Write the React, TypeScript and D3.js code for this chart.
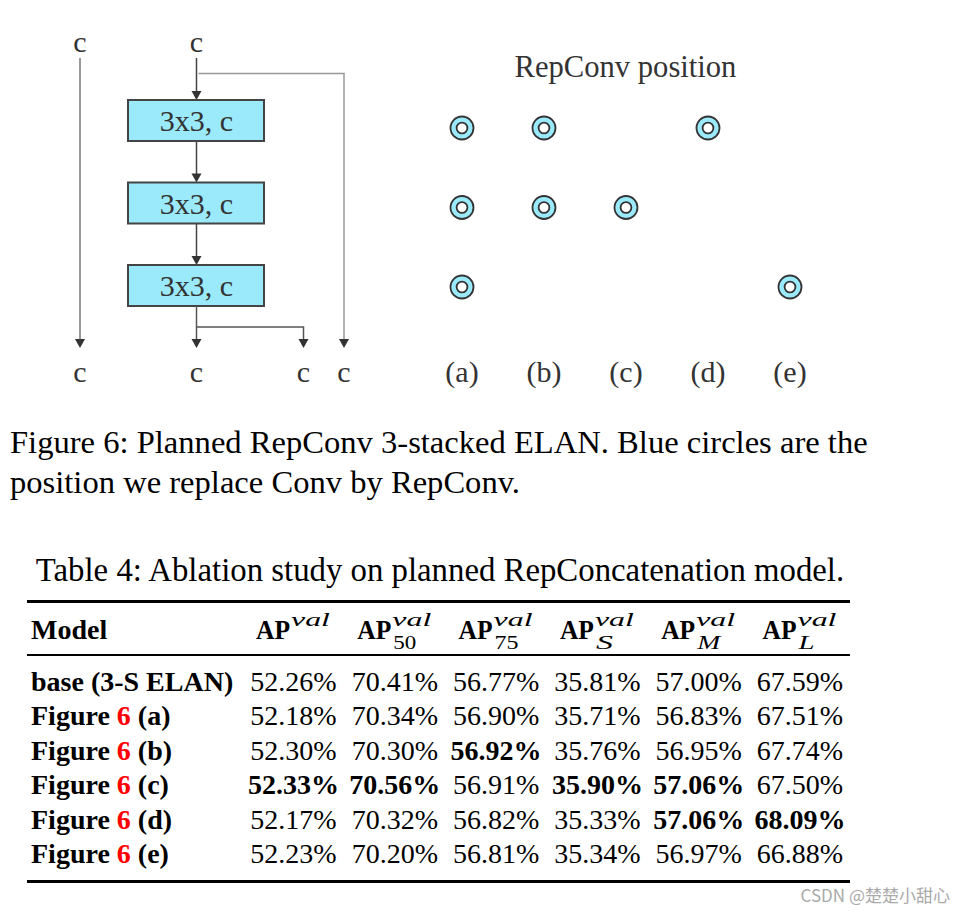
import React from "react";
import * as d3 from "d3";

// ---------- data ----------
const topLabels = ["c", "c"];
const bottomLabels = ["c", "c", "c", "c"];
const blockLabels = ["3x3, c", "3x3, c", "3x3, c"];
const variants = ["(a)", "(b)", "(c)", "(d)", "(e)"];
const repconvRows = [[0, 1, 2], [0, 1], [1], [0], [2]];
const captionLines = [
  "Figure 6: Planned RepConv 3-stacked ELAN. Blue circles are the",
  "position we replace Conv by RepConv.",
];
const tableTitle = "Table 4: Ablation study on planned RepConcatenation model.";
const modelNames = ["base (3-S ELAN)", "(a)", "(b)", "(c)", "(d)", "(e)"];
const colKeys = ["AP", "AP50", "AP75", "APS", "APM", "APL"];
const colSubs = ["", "50", "75", "S", "M", "L"];
const apVal = [52.26, 52.18, 52.3, 52.33, 52.17, 52.23];
const ap50 = [70.41, 70.34, 70.3, 70.56, 70.32, 70.2];
const ap75 = [56.77, 56.9, 56.92, 56.91, 56.82, 56.81];
const apS = [35.81, 35.71, 35.76, 35.9, 35.33, 35.34];
const apM = [57.0, 56.83, 56.95, 57.06, 57.06, 56.97];
const apL = [67.59, 67.51, 67.74, 67.5, 68.09, 66.88];
const columns = [apVal, ap50, ap75, apS, apM, apL];

const SERIF = "'Liberation Serif', 'Times New Roman', serif";
const CYAN = "#9beafc";
const DK = "#333";

function Arrow({ x, y }: { x: number; y: number }) {
  // y is the tip
  return <path d={`M${x - 5},${y - 9}L${x + 5},${y - 9}L${x},${y}Z`} fill={DK} />;
}

export default function App() {
  // diagram scales
  const xVar = d3.scalePoint<string>().domain(variants).range([462, 790]);
  const yRow = d3.scalePoint<number>().domain([0, 1, 2]).range([128, 287]);
  const yBox = d3.scalePoint<number>().domain([0, 1, 2]).range([100, 265]);
  const boxH = 41;
  const boxX0 = 128, boxX1 = 264;
  const cx = 196.5;

  // table scales
  const xCol = d3.scalePoint<string>().domain(colKeys).range([293.5, 800]);
  const yRowT = d3.scalePoint<number>().domain(d3.range(modelNames.length)).range([690.5, 863]);
  const subWidths: Record<string, number> = { "": 0, "50": 23, "75": 24, S: 17, M: 23, L: 16 };

  return (
    <svg width={973} height={916} style={{ position: "absolute", left: 0, top: 0, background: "#fff" }}
      fontFamily={SERIF}>
      <rect width={973} height={916} fill="#fff" />
      {/* ---------- ELAN diagram ---------- */}
      <g fill={DK} fontSize={30}>
        {topLabels.map((t, i) => (
          <text key={"t" + i} x={i === 0 ? 80 : cx} y={52} textAnchor="middle">{t}</text>
        ))}
        {bottomLabels.map((t, i) => (
          <text key={"b" + i} x={[80, cx, 303.5, 344][i]} y={382} textAnchor="middle">{t}</text>
        ))}
      </g>
      {/* left line */}
      <line x1={80} y1={58} x2={80} y2={340} stroke="#777" strokeWidth={1.5} />
      <Arrow x={80} y={348} />
      {/* central input line */}
      <line x1={cx} y1={58} x2={cx} y2={92} stroke="#444" strokeWidth={1.5} />
      <Arrow x={cx} y={100} />
      {/* top branch to right */}
      <path d={`M${cx + 2},73.5H344V340`} fill="none" stroke="#999" strokeWidth={1.5} />
      <Arrow x={344} y={348} />
      {/* blocks */}
      {blockLabels.map((lab, i) => {
        const y = yBox(i)!;
        return (
          <g key={"blk" + i}>
            {i > 0 && (
              <>
                <line x1={cx} y1={yBox(i - 1)! + boxH} x2={cx} y2={y - 8} stroke="#444" strokeWidth={1.5} />
                <Arrow x={cx} y={y} />
              </>
            )}
            <rect x={boxX0} y={y} width={boxX1 - boxX0} height={boxH} fill={CYAN} stroke="#444" strokeWidth={2} />
            <text x={cx} y={y + boxH / 2 + 10.5} textAnchor="middle" fontSize={30} fill={DK}>{lab}</text>
          </g>
        );
      })}
      {/* bottom outputs */}
      <line x1={cx} y1={yBox(2)! + boxH} x2={cx} y2={340} stroke="#555" strokeWidth={1.5} />
      <Arrow x={cx} y={348} />
      <path d={`M${cx},327H303.5V340`} fill="none" stroke="#555" strokeWidth={1.5} />
      <Arrow x={303.5} y={348} />

      {/* ---------- RepConv position ---------- */}
      <text x={625.5} y={77} textAnchor="middle" fontSize={30.6} fill={DK}>RepConv position</text>
      {variants.map((v, i) => (
        <g key={v}>
          {repconvRows[i].map((r) => (
            <g key={r}>
              <circle cx={xVar(v)} cy={yRow(r)} r={11.5} fill={CYAN} stroke={DK} strokeWidth={1.8} />
              <circle cx={xVar(v)} cy={yRow(r)} r={5.4} fill="#fff" stroke={DK} strokeWidth={1.8} />
            </g>
          ))}
          <text x={xVar(v)} y={382} textAnchor="middle" fontSize={30} fill={DK}>{v}</text>
        </g>
      ))}

      {/* ---------- caption ---------- */}
      {captionLines.map((l, i) => (
        <text key={"cap" + i} x={10} y={453 + i * 40} fontSize={32.6} fill="#000">{l}</text>
      ))}

      {/* ---------- table ---------- */}
      <text x={440} y={581} textAnchor="middle" fontSize={32.8} fill="#000">{tableTitle}</text>
      <line x1={27} x2={850} y1={601.5} y2={601.5} stroke="#000" strokeWidth={3} />
      <line x1={27} x2={850} y1={655} y2={655} stroke="#000" strokeWidth={2} />
      <line x1={27} x2={850} y1={881.5} y2={881.5} stroke="#000" strokeWidth={3} />

      <text x={31} y={639} fontSize={28} fontWeight="bold">Model</text>
      {colKeys.map((k, j) => {
        const c = xCol(k)!;
        const x0 = c - 37.5;
        const sub = colSubs[j];
        return (
          <g key={k}>
            <text x={x0} y={639} fontSize={27} fontWeight="bold" textLength={34} lengthAdjust="spacingAndGlyphs">AP</text>
            <text x={x0 + 35} y={626} fontSize={19} fontStyle="italic" textLength={39} lengthAdjust="spacingAndGlyphs">val</text>
            {sub && (
              <text x={x0 + 36} y={648.5} fontSize={19} fontStyle={/\d/.test(sub) ? "normal" : "italic"}
                textLength={subWidths[sub]} lengthAdjust="spacingAndGlyphs">{sub}</text>
            )}
          </g>
        );
      })}

      {modelNames.map((m, i) => (
        <text key={"m" + i} x={31} y={yRowT(i)} fontSize={28} fontWeight="bold">
          {i === 0 ? m : (
            <>
              <tspan>Figure </tspan>
              <tspan fill="#f00">6</tspan>
              <tspan> {m}</tspan>
            </>
          )}
        </text>
      ))}
      {columns.map((vals, j) => {
        const mx = d3.max(vals)!;
        return vals.map((v, i) => (
          <text key={`v${j}-${i}`} x={xCol(colKeys[j])} y={yRowT(i)}
            textAnchor="middle" fontSize={28} fontWeight={v === mx ? "bold" : "normal"}>
            {v.toFixed(2)}%
          </text>
        ));
      })}

      {/* watermark */}
      <text x={950} y={902} textAnchor="end" fontSize={17} fill="#aaa"
        fontFamily="'Noto Sans CJK SC', 'Noto Sans', sans-serif">CSDN @楚楚小甜心</text>
    </svg>
  );
}
